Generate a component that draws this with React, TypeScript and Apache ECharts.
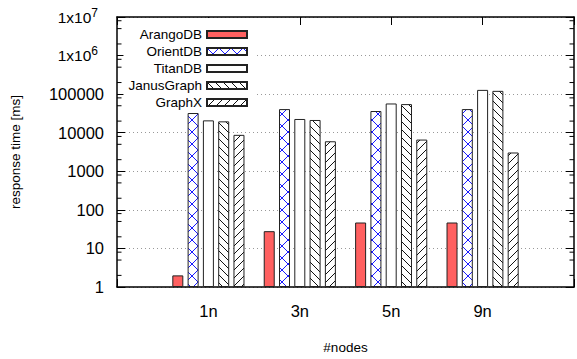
import React, { useEffect, useRef } from 'react';
import * as echarts from 'echarts';

const categories = ['1n', '3n', '5n', '9n'];
const seriesNames = ['ArangoDB', 'OrientDB', 'TitanDB', 'JanusGraph', 'GraphX'];
const arangoDB = [2, 28, 47, 47];
const orientDB = [32400, 41000, 36500, 41000];
const titanDB = [20900, 22700, 57300, 129000];
const janusGraph = [19700, 21400, 55200, 121700];
const graphX = [8800, 6000, 6640, 3070];
const yTickLabels = ['1', '10', '100', '1000', '10000', '100000', '1x10^6', '1x10^7'];
const minorTickValues = [
  2, 5, 8, 20, 50, 80, 200, 500, 800, 2000, 5000, 8000,
  20000, 50000, 80000, 200000, 500000, 800000, 2000000, 5000000, 8000000,
];

const FONT = '"Liberation Sans", Arial, Helvetica, sans-serif';

function makePattern(kind: 'cross' | 'back' | 'fwd', size: number, color: string) {
  const c = document.createElement('canvas');
  c.width = size;
  c.height = size;
  const ctx = c.getContext('2d') as CanvasRenderingContext2D;
  ctx.fillStyle = '#fff';
  ctx.fillRect(0, 0, size, size);
  ctx.strokeStyle = color;
  ctx.lineWidth = 1;
  const back = () => {
    for (const k of [-size, 0, size]) {
      ctx.beginPath();
      ctx.moveTo(k, 0);
      ctx.lineTo(k + size, size);
      ctx.stroke();
    }
  };
  const fwd = () => {
    for (const k of [-size, 0, size]) {
      ctx.beginPath();
      ctx.moveTo(k, size);
      ctx.lineTo(k + size, 0);
      ctx.stroke();
    }
  };
  if (kind === 'cross') { back(); fwd(); }
  else if (kind === 'back') back();
  else fwd();
  return { image: c.toDataURL(), repeat: 'repeat', imageWidth: size, imageHeight: size };
}

export default function App() {
  const ref = useRef<HTMLDivElement>(null);
  useEffect(() => {
    if (!ref.current) return;
    const chart = echarts.init(ref.current, undefined, { renderer: 'svg' });
    const xSlots = ['', ...categories, ''];
    const pad = (arr: number[]) => ['-', ...arr, '-'];
    const fills: any[] = [
      '#ff6060',
      makePattern('cross', 12, '#1a1aff'),
      '#ffffff',
      makePattern('back', 8, '#111'),
      makePattern('fwd', 8, '#111'),
    ];
    const values = [arangoDB, orientDB, titanDB, janusGraph, graphX];

    const yFormatter = (v: number) => {
      const e = Math.round(Math.log10(v));
      const s = yTickLabels[e] ?? '';
      if (s.includes('^')) {
        const [b, p] = s.split('^');
        return `{base|${b}}{sup|${p}}`;
      }
      return s;
    };

    const barSeries = seriesNames.map((name, i) => ({
      name,
      type: 'bar',
      data: pad(values[i]),
      xAxisIndex: 0,
      yAxisIndex: 0,
      barWidth: 11,
      barGap: '39%',
      itemStyle: { color: fills[i], borderColor: '#222', borderWidth: 1 },
      emphasis: { disabled: true },
    }));

    const option: any = {
      animation: false,
      grid: { left: 116, top: 17, right: 1, bottom: 70.5, show: false },
      legend: {
        data: seriesNames,
        orient: 'vertical',
        align: 'right',
        right: 320,
        top: 18,
        z: 1,
        itemWidth: 40,
        itemHeight: 7,
        itemGap: 0,
        icon: 'rect',
        backgroundColor: '#fff',
        padding: [8, 9, 1, 5],
        textStyle: { fontSize: 13.5, color: '#000', fontFamily: FONT, lineHeight: 17 },
      },
      xAxis: [
        {
          type: 'category',
          data: xSlots,
          boundaryGap: false,
          position: 'bottom',
          axisLine: { onZero: false, lineStyle: { color: '#000', width: 1.5 } },
          axisTick: { inside: true, length: 8, interval: 0, lineStyle: { color: '#000' } },
          axisLabel: { interval: 0, color: '#000', fontSize: 16.5, margin: 15, fontFamily: FONT },
          splitLine: { show: false },
          name: '#nodes',
          nameLocation: 'middle',
          nameGap: 53,
          nameTextStyle: { fontSize: 13.5, color: '#000', fontFamily: FONT },
        },
        {
          type: 'category',
          data: xSlots,
          boundaryGap: false,
          position: 'top',
          axisLine: { onZero: false, lineStyle: { color: '#000', width: 1.5 } },
          axisTick: { inside: true, length: 8, interval: 0, lineStyle: { color: '#000' } },
          axisLabel: { show: false },
          splitLine: { show: false },
        },
      ],
      yAxis: [
        {
          type: 'log',
          logBase: 10,
          min: 1,
          max: 10000000,
          splitNumber: 7,
          axisLine: { show: true, onZero: false, lineStyle: { color: '#000', width: 1.5 } },
          axisTick: { show: true, inside: true, length: 8, lineStyle: { color: '#000' } },
          axisLabel: {
            formatter: yFormatter,
            color: '#000',
            fontSize: 16.5,
            fontFamily: FONT,
            margin: 13,
            rich: {
              base: { fontSize: 15.5, color: '#000', fontFamily: FONT },
              sup: { fontSize: 12, color: '#000', fontFamily: FONT, padding: [0, 6, 9, 0] },
            },
          },
          splitLine: { show: true, lineStyle: { color: '#999', type: [1, 3], width: 1 } },
          name: 'response time [ms]',
          nameLocation: 'middle',
          nameRotate: 90,
          nameGap: 95,
          nameTextStyle: { fontSize: 13.5, color: '#000', fontFamily: FONT },
        },
        {
          type: 'log',
          logBase: 10,
          min: 1,
          max: 10000000,
          splitNumber: 7,
          position: 'right',
          axisLine: { show: true, onZero: false, lineStyle: { color: '#000', width: 1.5 } },
          axisTick: { show: true, inside: true, length: 8, lineStyle: { color: '#000' } },
          axisLabel: { show: false },
          splitLine: { show: false },
        },
      ],
      series: [
        ...barSeries,
        {
          type: 'custom',
          name: 'minorTicks',
          xAxisIndex: 0,
          yAxisIndex: 0,
          silent: true,
          z: 3,
          data: minorTickValues.map((v) => [0, v]),
          renderItem: (params: any, api: any) => {
            const y = api.coord([0, api.value(1)])[1];
            const cs = params.coordSys;
            return {
              type: 'group',
              children: [
                { type: 'line', shape: { x1: cs.x, y1: y, x2: cs.x + 4.5, y2: y }, style: { stroke: '#000', lineWidth: 1 } },
                { type: 'line', shape: { x1: cs.x + cs.width - 4.5, y1: y, x2: cs.x + cs.width, y2: y }, style: { stroke: '#000', lineWidth: 1 } },
              ],
            };
          },
        },
      ],
    };
    chart.setOption(option);
    return () => chart.dispose();
  }, []);
  return <div ref={ref} style={{ position: 'absolute', left: 0, top: 0, width: 577, height: 359 }} />;
}
